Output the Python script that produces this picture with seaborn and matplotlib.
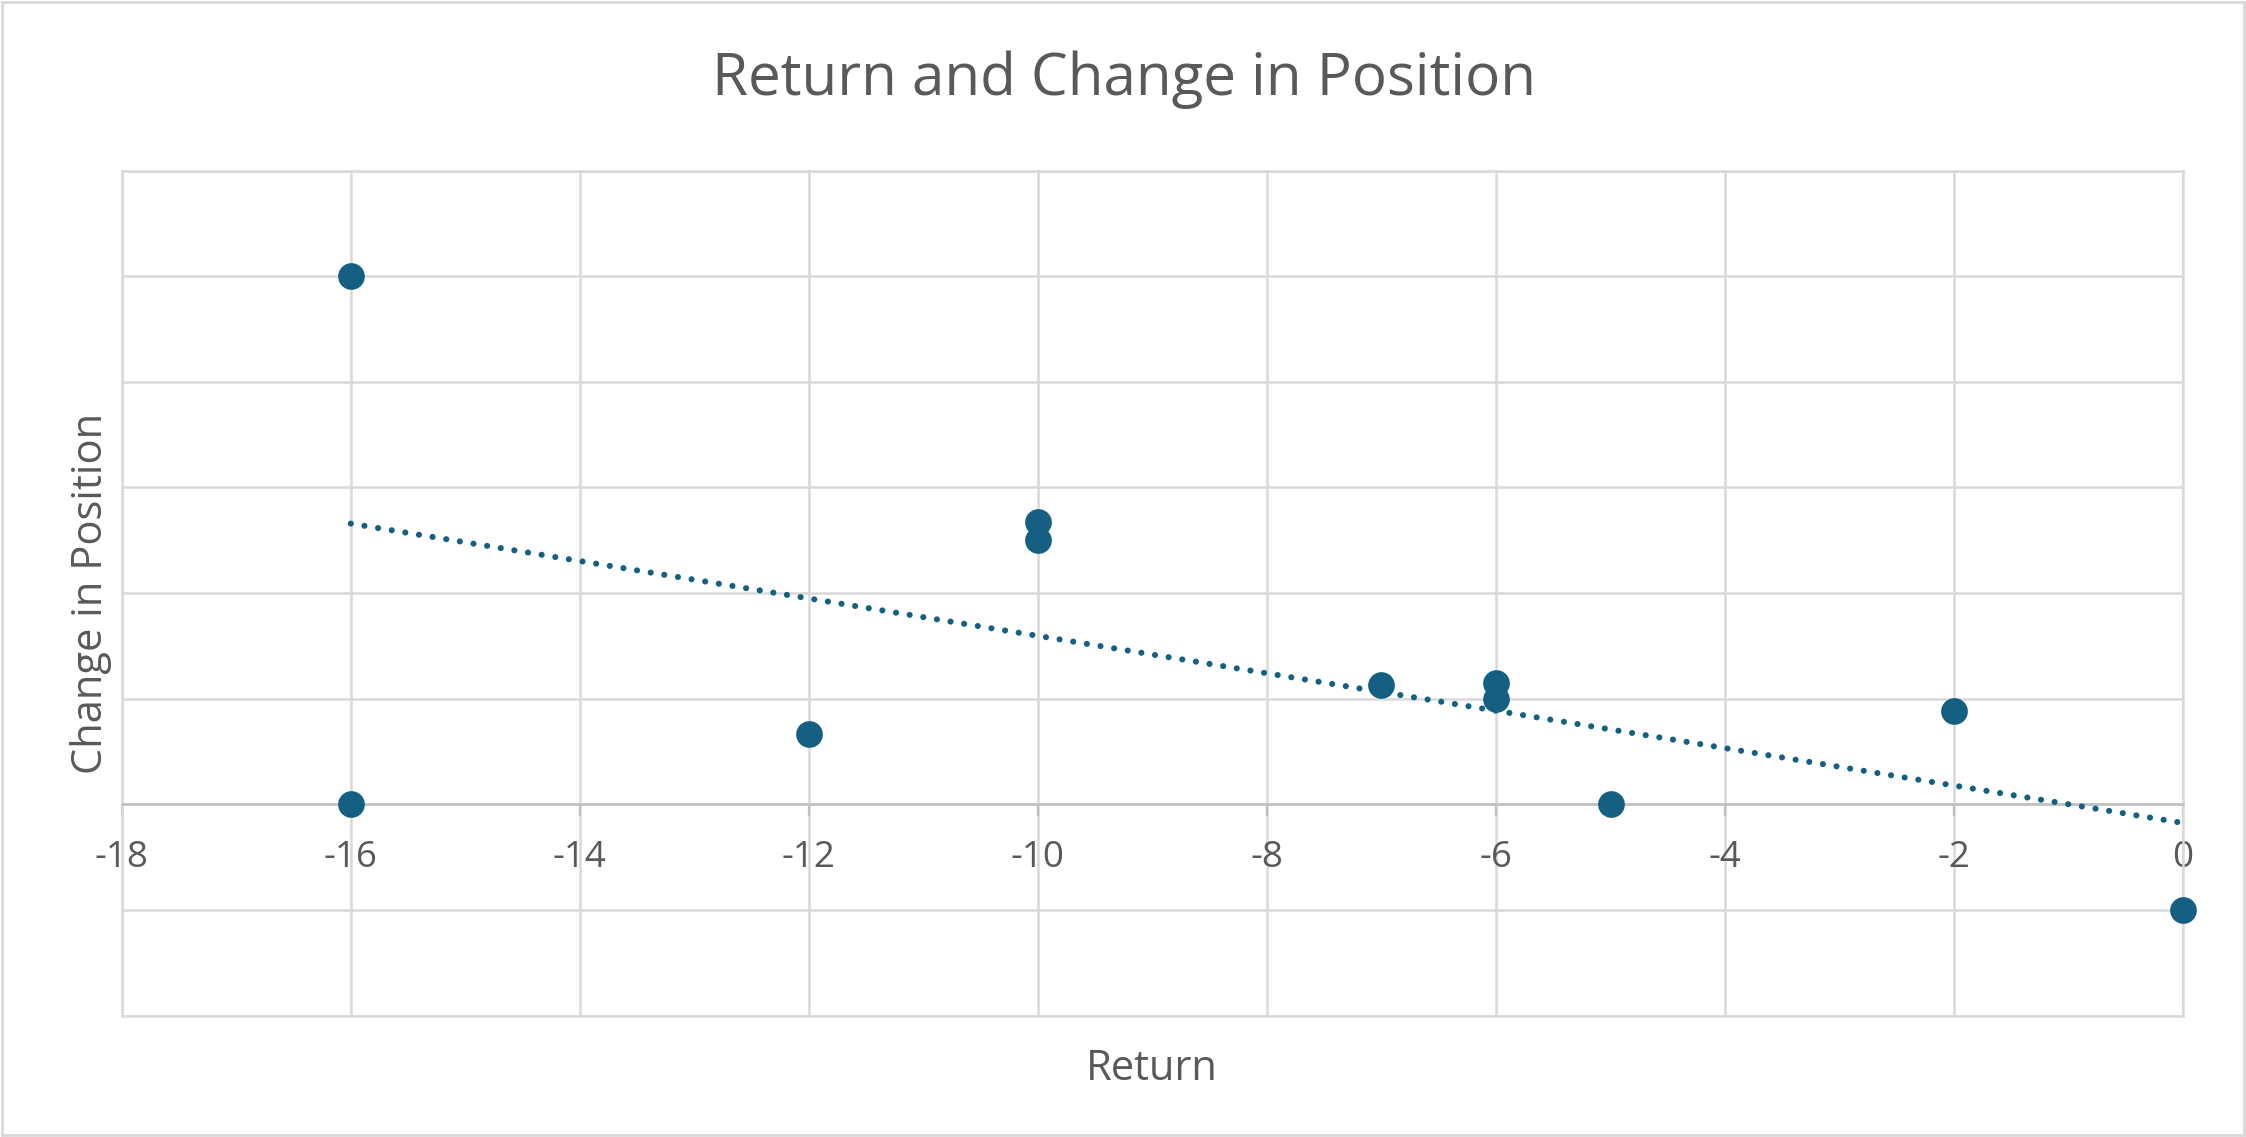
import numpy as np
import pandas as pd
import seaborn as sns
import matplotlib.pyplot as plt
from matplotlib.patches import Rectangle

returns = [-16, -16, -12, -10, -10, -7, -6, -6, -5, -2, 0]
changes = [5.0, 0.0, 0.67, 2.67, 2.5, 1.13, 1.15, 1.0, 0.0, 0.88, -1.0]

x_ticks = [-18, -16, -14, -12, -10, -8, -6, -4, -2, 0]
y_grid = [-2, -1, 0, 1, 2, 3, 4, 5, 6]

df = pd.DataFrame({'Return': returns, 'Change in Position': changes})

blue = '#156082'
grid_c = '#D9D9D9'
axis_c = '#BFBFBF'
text_c = '#595959'

sns.set_theme(style='white')
plt.rcParams['font.family'] = ['Open Sans', 'DejaVu Sans']

fig = plt.figure(figsize=(22.46, 11.37), dpi=100)
ax = fig.add_axes([0.0542, 0.1068, 0.9178, 0.7432])

sns.regplot(data=df, x='Return', y='Change in Position', ax=ax, ci=None,
            scatter=False, truncate=True,
            line_kws=dict(color=blue, lw=4.4, linestyle=(0, (0.01, 2.25)),
                          dash_capstyle='round', zorder=3))
sns.scatterplot(data=df, x='Return', y='Change in Position', ax=ax,
                color=blue, s=370, edgecolor=blue, linewidth=0,
                zorder=4, clip_on=False)

ax.set_xlim(-18, 0)
ax.set_ylim(-2, 6)
ax.set_xticks(x_ticks)
ax.set_yticks(y_grid)
ax.set_yticklabels([])
ax.set_xticklabels([str(t) for t in x_ticks])
ax.set_xlabel('')
ax.set_ylabel('')

ax.set_axisbelow(True)
ax.grid(True, color=grid_c, lw=1.8)

for side in ['top', 'left', 'right']:
    ax.spines[side].set_color(grid_c)
    ax.spines[side].set_linewidth(1.8)
ax.spines['bottom'].set_position(('data', 0))
ax.spines['bottom'].set_color(axis_c)
ax.spines['bottom'].set_linewidth(1.8)
ax.axhline(-2, color=grid_c, lw=1.8, clip_on=False, zorder=1)

ax.tick_params(axis='x', direction='out', length=8.6, width=1.6,
               color=axis_c, labelsize=26.5, labelcolor=text_c, pad=17,
               bottom=True)
ax.tick_params(axis='y', length=0, left=False)

fig.text(0.5003, 0.9162, 'Return and Change in Position', fontsize=42,
         color=text_c, ha='center', va='baseline')
fig.text(0.5128, 0.050, 'Return', fontsize=30, color=text_c,
         ha='center', va='baseline')
fig.text(0.0453, 0.4785, 'Change in Position', fontsize=30, color=text_c,
         ha='center', va='baseline', rotation=90, rotation_mode='anchor')

fig.patches.append(Rectangle((0.001, 0.002), 0.998, 0.996, transform=fig.transFigure,
                             fill=False, edgecolor=grid_c, lw=2))

fig.savefig('out.png', dpi=100)
